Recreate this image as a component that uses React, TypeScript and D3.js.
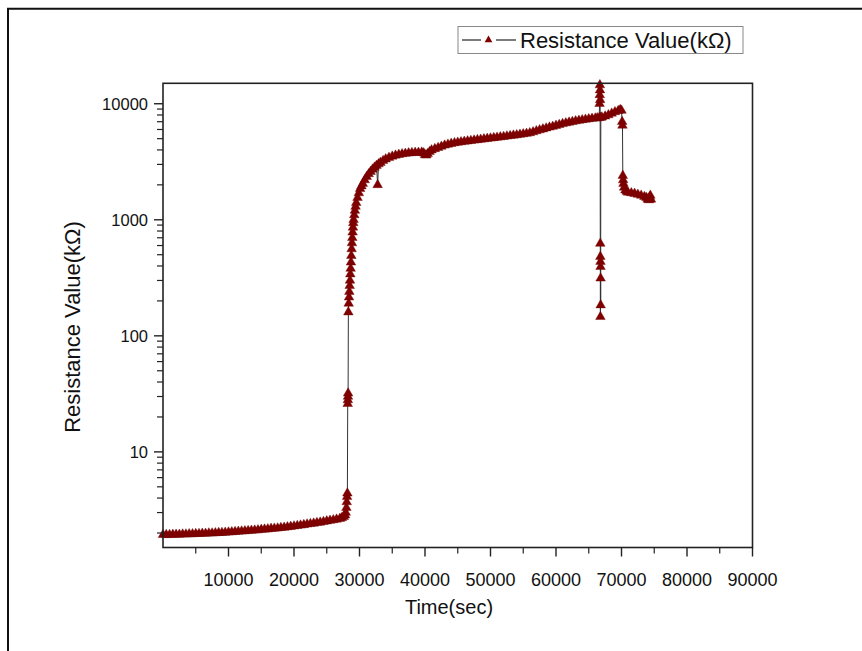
import React from "react";
import * as d3 from "d3";

// Time (sec) and resistance (kΩ)
const times: number[] = [
  0, 500, 1000, 1500, 2000, 2500, 3000, 3500, 4000, 4500, 5000, 5500, 6000, 6500, 7000, 7500,
  8000, 8500, 9000, 9500, 10000, 10500, 11000, 11500, 12000, 12500, 13000, 13500, 14000, 14500,
  15000, 15500, 16000, 16500, 17000, 17500, 18000, 18500, 19000, 19500, 20000, 20500, 21000,
  21500, 22000, 22500, 23000, 23500, 24000, 24500, 25000, 25500, 26000, 26500, 27000, 27300,
  27600, 27800, 27900, 28000, 28050, 28100, 28150,
  28200, 28220, 28240, 28260,
  28300, 28350, 28400, 28450, 28500, 28550, 28600, 28650, 28700, 28750, 28800, 28850, 28900,
  28950, 29000, 29050, 29100, 29200, 29300, 29400, 29500, 29700, 29900, 30100, 30300, 30500,
  30800, 31100, 31400, 31700, 32000, 32300, 32600, 32770, 32900, 33200, 33600, 34000, 34500,
  35000, 35500, 36000, 36500, 37000, 37500, 38000, 38500, 39000, 39500, 39800, 40000, 40200,
  40400, 40700, 41000, 41500, 42000, 42500, 43000, 43500, 44000, 44500, 45000, 45500, 46000,
  46500, 47000, 47500, 48000, 48500, 49000, 49500, 50000, 50500, 51000, 51500, 52000, 52500,
  53000, 53500, 54000, 54500, 55000, 55500, 56000, 56500, 57000, 57500, 58000, 58500, 59000,
  59500, 60000, 60500, 61000, 61500, 62000, 62500, 63000, 63500, 64000, 64500, 65000, 65500,
  66000, 66300, 66600,
  66650, 66680, 66700, 66720, 66740, 66760, 66770, 66780, 66790, 66800, 66810, 66820, 66840,
  67000, 67500, 68000, 68500, 69000, 69500, 69800, 70000,
  70100, 70150, 70200, 70250, 70300, 70400, 70600, 70800, 71000, 71500, 72000, 72500, 73000,
  73500, 73800, 74000, 74200, 74300, 74400, 74500,
];

const resistance: number[] = [
  1.93, 1.93, 1.93, 1.94, 1.94, 1.94, 1.95, 1.95, 1.96, 1.96, 1.97, 1.97, 1.98, 1.98, 1.99, 1.99,
  2.0, 2.01, 2.01, 2.02, 2.03, 2.04, 2.05, 2.06, 2.07, 2.08, 2.09, 2.1, 2.11, 2.12,
  2.14, 2.15, 2.16, 2.18, 2.19, 2.2, 2.22, 2.23, 2.25, 2.27, 2.29, 2.31, 2.33,
  2.35, 2.38, 2.4, 2.42, 2.45, 2.47, 2.5, 2.53, 2.56, 2.59, 2.62, 2.66, 2.7,
  2.76, 2.85, 3.0, 3.3, 3.7, 4.1, 4.4,
  26, 28, 30, 32,
  160, 190, 215, 240, 270, 300, 340, 380, 430, 490, 560, 630, 700,
  780, 860, 940, 1000, 1100, 1200, 1300, 1400, 1550, 1700, 1850, 1950, 2050,
  2200, 2350, 2480, 2600, 2720, 2830, 2930, 2000, 3020, 3110, 3230, 3330, 3430,
  3520, 3590, 3640, 3690, 3720, 3750, 3770, 3790, 3800, 3810, 3750, 3620, 3600,
  3700, 3850, 3980, 4080, 4180, 4280, 4380, 4460, 4530, 4590, 4640, 4680, 4720,
  4760, 4800, 4840, 4880, 4920, 4960, 5000, 5040, 5080, 5120, 5160, 5200, 5250,
  5290, 5340, 5380, 5430, 5480, 5530, 5600, 5700, 5820, 5930, 6040, 6150, 6260,
  6360, 6480, 6600, 6710, 6810, 6910, 7000, 7090, 7170, 7250, 7320, 7390, 7450,
  7500, 7530, 7560,
  10000, 11900, 14500, 13100, 10800, 624, 481, 146, 436, 394, 313, 184, 7600,
  7650, 7800, 8000, 8250, 8500, 8700, 8850, 8750,
  7000, 6500, 2400, 2200, 2050, 1900, 1800, 1750, 1720, 1700, 1680, 1650, 1620,
  1580, 1550, 1500, 1480, 1560, 1620, 1500,
];

const xTicks: number[] = [10000, 20000, 30000, 40000, 50000, 60000, 70000, 80000, 90000];
const xMinorTicks: number[] = [5000, 15000, 25000, 35000, 45000, 55000, 65000, 75000, 85000];
const yTicks: number[] = [10, 100, 1000, 10000];
const yMinorTicks: number[] = [
  2, 3, 4, 5, 6, 7, 8, 9, 20, 30, 40, 50, 60, 70, 80, 90, 200, 300, 400, 500, 600, 700, 800,
  900, 2000, 3000, 4000, 5000, 6000, 7000, 8000, 9000,
];
const seriesName = "Resistance Value(kΩ)";
const xTitle = "Time(sec)";
const yTitle = "Resistance Value(kΩ)";

const FONT = "'Liberation Sans', Arial, sans-serif";
const MARK = "#800000";

export default function App() {
  const W = 862;
  const H = 651;
  const L = 163, R = 752.5, T = 83.3, B = 547.5;
  const x = d3.scaleLinear().domain([0, 90000]).range([L, R]);
  const y = d3.scaleLog().domain([1.5, 15000]).range([B, T]);
  const data = times.map((t, i) => ({ t, v: resistance[i] }));
  const line = d3
    .line<{ t: number; v: number }>()
    .x((d) => x(d.t))
    .y((d) => y(d.v));
  const tri = d3.symbol(d3.symbolTriangle, 40)() as string;
  const triLegend = d3.symbol(d3.symbolTriangle, 26)() as string;

  return (
    <svg
      width={W}
      height={H}
      style={{ position: "absolute", left: 0, top: 0, background: "#fff" }}
      fontFamily={FONT}
    >
      <rect x={0} y={0} width={W} height={H} fill="#fff" />
      {/* outer border (top & left visible) */}
      <path d={`M8,${H + 5}V8.7H${W + 5}`} fill="none" stroke="#111" strokeWidth={2} />

      {/* data line */}
      <path d={line(data) as string} fill="none" stroke="#333" strokeWidth={1} />
      {/* markers */}
      <g>
        {data.map((d, i) => (
          <path
            key={i}
            d={tri}
            transform={`translate(${x(d.t)},${y(d.v)})`}
            fill={MARK}
            stroke="#700000"
            strokeWidth={0.4}
          />
        ))}
      </g>

      {/* frame */}
      <rect x={L} y={T} width={R - L} height={B - T} fill="none" stroke="#222" strokeWidth={1.6} />

      {/* x ticks */}
      {xTicks.map((t) => (
        <g key={"xt" + t}>
          <line x1={x(t)} x2={x(t)} y1={B} y2={B + 9} stroke="#222" strokeWidth={1.4} />
          <text x={x(t)} y={B + 38} textAnchor="middle" fontSize={18} fill="#111">
            {t}
          </text>
        </g>
      ))}
      {xMinorTicks.map((t) => (
        <line key={"xm" + t} x1={x(t)} x2={x(t)} y1={B} y2={B + 6} stroke="#222" strokeWidth={1.2} />
      ))}

      {/* y ticks */}
      {yTicks.map((v) => (
        <g key={"yt" + v}>
          <line x1={L - 9} x2={L} y1={y(v)} y2={y(v)} stroke="#222" strokeWidth={1.4} />
          <text x={L - 15} y={y(v)} dy="0.35em" textAnchor="end" fontSize={16.5} fill="#111">
            {v}
          </text>
        </g>
      ))}
      {yMinorTicks.map((v) => (
        <line key={"ym" + v} x1={L - 6} x2={L} y1={y(v)} y2={y(v)} stroke="#222" strokeWidth={1.2} />
      ))}

      {/* axis titles */}
      <text x={449} y={614} textAnchor="middle" fontSize={20} fill="#111">
        {xTitle}
      </text>
      <text
        transform={`translate(80,327) rotate(-90)`}
        textAnchor="middle"
        fontSize={22}
        fill="#111"
      >
        {yTitle}
      </text>

      {/* legend */}
      <rect x={458} y={26.5} width={285} height={27} fill="#fff" stroke="#888" strokeWidth={1} />
      <line x1={462} x2={481} y1={40} y2={40} stroke="#222" strokeWidth={1.2} />
      <line x1={496} x2={516} y1={40} y2={40} stroke="#222" strokeWidth={1.2} />
      <path d={triLegend} transform="translate(488.5,40)" fill={MARK} />
      <text x={520} y={47.5} fontSize={22} fill="#111">
        {seriesName}
      </text>
    </svg>
  );
}
